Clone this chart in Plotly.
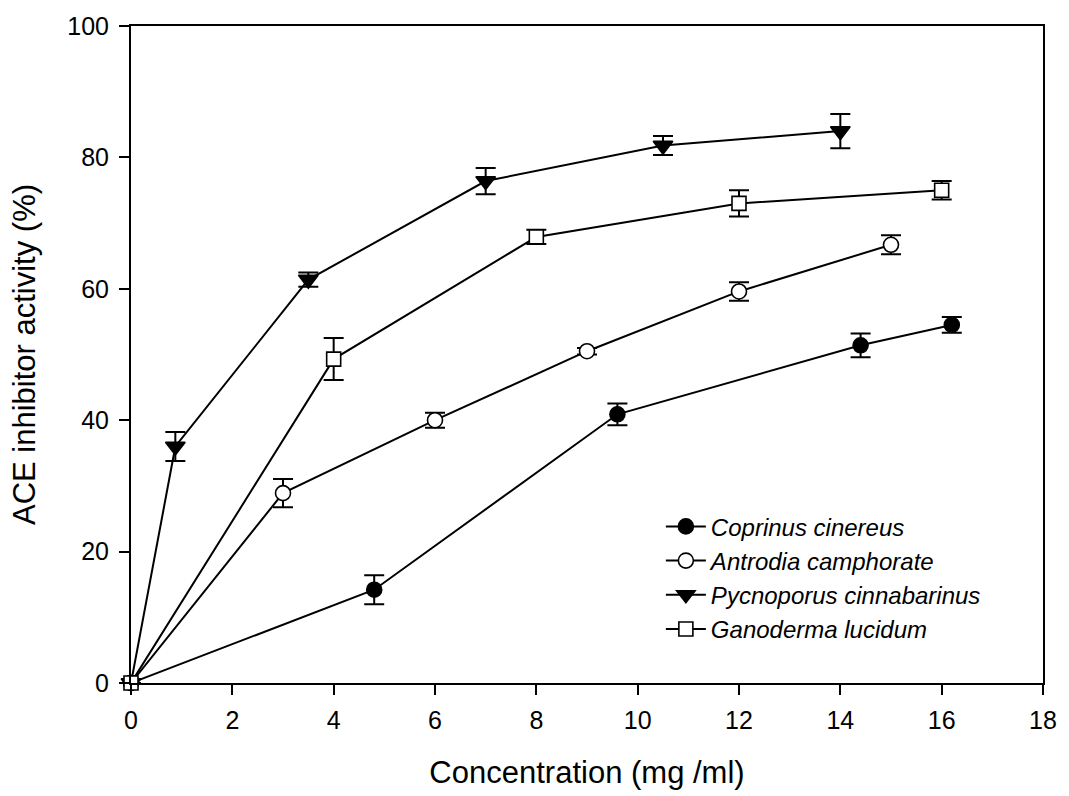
import plotly.graph_objects as go

# Concentration (mg/ml) and ACE inhibitor activity (%) with standard deviations
coprinus_x = [0, 4.8, 9.6, 14.4, 16.2]
coprinus_y = [0, 14.2, 40.9, 51.4, 54.5]
coprinus_err = [None, 2.2, 1.65, 1.8, 1.2]

antrodia_x = [0, 3, 6, 9, 12, 15]
antrodia_y = [0, 28.9, 40.0, 50.5, 59.6, 66.7]
antrodia_err = [None, 2.15, 1.15, 0.5, 1.4, 1.45]

pycnoporus_x = [0, 0.875, 3.5, 7, 10.5, 14]
pycnoporus_y = [0, 36.0, 61.4, 76.4, 81.8, 84.0]
pycnoporus_err = [None, 2.2, 1.1, 2.0, 1.45, 2.6]

ganoderma_x = [0, 4, 8, 12, 16]
ganoderma_y = [0, 49.3, 67.9, 73.0, 75.0]
ganoderma_err = [None, 3.2, 1.1, 2.0, 1.4]

x_ticks = [0, 2, 4, 6, 8, 10, 12, 14, 16, 18]
y_ticks = [0, 20, 40, 60, 80, 100]

FONT = "Liberation Sans, Arial, sans-serif"

series = [
    ("Coprinus cinereus", coprinus_x, coprinus_y, coprinus_err, "circle", "black", 15),
    ("Antrodia camphorate", antrodia_x, antrodia_y, antrodia_err, "circle", "white", 15),
    ("Pycnoporus cinnabarinus", pycnoporus_x, pycnoporus_y, pycnoporus_err, "triangle-down", "black", 17),
    ("Ganoderma lucidum", ganoderma_x, ganoderma_y, ganoderma_err, "square", "white", 14),
]

fig = go.Figure()
for name, xs, ys, errs, symbol, fill, size in series:
    fig.add_trace(go.Scatter(
        x=xs, y=ys, name=name, mode="lines+markers",
        line=dict(color="black", width=2),
        marker=dict(symbol=symbol, size=size, color=fill,
                    line=dict(color="black", width=1.6)),
        error_y=dict(type="data", array=errs, visible=True,
                     color="black", thickness=2, width=10),
        cliponaxis=False,
    ))

fig.update_layout(
    width=1069, height=796,
    margin=dict(l=131, r=17, t=25, b=110),
    paper_bgcolor="white", plot_bgcolor="white",
    font=dict(family=FONT, color="black", size=25),
    showlegend=True,
    legend=dict(
        x=0.581, y=0.272, xanchor="left", yanchor="top",
        bgcolor="rgba(0,0,0,0)", borderwidth=0,
        font=dict(family=FONT, size=24, style="italic"),
        tracegroupgap=0, itemwidth=40,
    ),
    xaxis=dict(
        range=[0, 18], tickvals=x_ticks, ticktext=[str(v) for v in x_ticks],
        showline=True, linecolor="black", linewidth=2, mirror=True,
        ticks="outside", ticklen=10, tickwidth=2, tickcolor="black",
        showgrid=False, zeroline=False,
        tickfont=dict(size=25), ticklabelstandoff=4,
        title=dict(text="Concentration (mg /ml)", font=dict(size=31), standoff=28),
    ),
    yaxis=dict(
        range=[0, 100], tickvals=y_ticks, ticktext=[str(v) for v in y_ticks],
        showline=True, linecolor="black", linewidth=2, mirror=True,
        ticks="outside", ticklen=10, tickwidth=2, tickcolor="black",
        showgrid=False, zeroline=False,
        tickfont=dict(size=25), ticklabelstandoff=5,
        title=dict(text="ACE inhibitor activity (%)", font=dict(size=31), standoff=22),
    ),
)

fig.write_html("out.html")
